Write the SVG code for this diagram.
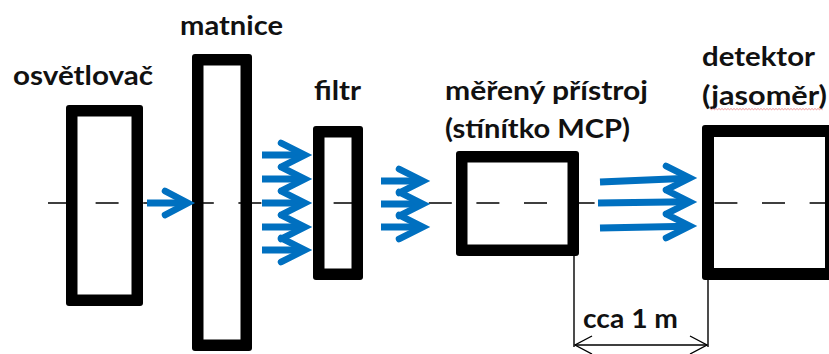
<svg xmlns="http://www.w3.org/2000/svg" width="829" height="354" viewBox="0 0 829 354">
  <style>
    .frame { fill: #000; }
    .hole { fill: #fff; }
    .label { font-family: Lato, "Open Sans", "Liberation Sans", sans-serif; font-weight: bold; font-size: 26px; fill: #111; }
    .axis { stroke: #000; stroke-width: 1.3; fill: none; stroke-dasharray: 23 24.6; }
    .ray { stroke: #0070C0; stroke-width: 7; fill: none; stroke-linecap: butt; }
    .head { stroke: #0070C0; stroke-width: 6.5; fill: none; stroke-linecap: round; stroke-linejoin: miter; }
    .dim { stroke: #000; stroke-width: 1.4; fill: none; }
  </style>

  <rect width="829" height="354" fill="#fff"/>

  <!-- light source -->
  <g id="osvetlovac">
    <rect class="frame" x="66" y="105" width="77" height="201" rx="3"/>
    <rect class="hole" x="77.5" y="116.5" width="54" height="178"/>
    <text class="label" x="13" y="85" textLength="140" lengthAdjust="spacingAndGlyphs">osvětlovač</text>
  </g>

  <!-- diffuser -->
  <g id="matnice">
    <rect class="frame" x="192" y="54" width="60" height="297" rx="3"/>
    <rect class="hole" x="203.5" y="65.5" width="37" height="274"/>
    <text class="label" x="180" y="35" textLength="103" lengthAdjust="spacingAndGlyphs">matnice</text>
  </g>

  <!-- filter -->
  <g id="filtr">
    <rect class="frame" x="313" y="126" width="50" height="154" rx="3"/>
    <rect class="hole" x="324.5" y="137.5" width="27" height="131"/>
    <text class="label" x="314" y="100" textLength="47" lengthAdjust="spacingAndGlyphs">filtr</text>
  </g>

  <!-- device under test -->
  <g id="mereny-pristroj">
    <rect class="frame" x="456" y="151" width="123" height="105" rx="3"/>
    <rect class="hole" x="467.5" y="162.5" width="100" height="82"/>
    <text class="label" x="445" y="100" textLength="203" lengthAdjust="spacingAndGlyphs">měřený přístroj</text>
    <text class="label" x="445" y="138" textLength="185" lengthAdjust="spacingAndGlyphs">(stínítko MCP)</text>
  </g>

  <!-- detector -->
  <g id="detektor">
    <rect class="frame" x="702" y="125" width="135" height="155" rx="3"/>
    <rect class="hole" x="714" y="137" width="111" height="131"/>
    <text class="label" x="702" y="66" textLength="113" lengthAdjust="spacingAndGlyphs">detektor</text>
    <text class="label" x="702" y="105" textLength="125" lengthAdjust="spacingAndGlyphs">(jasoměr)</text>
    <path d="M710 108.5 l1.5 1.2 l1.5 -1.2 l1.5 1.2 l1.5 -1.2 l1.5 1.2 l1.5 -1.2 l1.5 1.2 l1.5 -1.2 l1.5 1.2 l1.5 -1.2 l1.5 1.2 l1.5 -1.2 l1.5 1.2 l1.5 -1.2 l1.5 1.2 l1.5 -1.2 l1.5 1.2 l1.5 -1.2 l1.5 1.2 l1.5 -1.2 l1.5 1.2 l1.5 -1.2 l1.5 1.2 l1.5 -1.2 l1.5 1.2 l1.5 -1.2 l1.5 1.2 l1.5 -1.2 l1.5 1.2 l1.5 -1.2 l1.5 1.2 l1.5 -1.2 l1.5 1.2 l1.5 -1.2 l1.5 1.2 l1.5 -1.2 l1.5 1.2 l1.5 -1.2 l1.5 1.2 l1.5 -1.2 l1.5 1.2 l1.5 -1.2 l1.5 1.2 l1.5 -1.2 l1.5 1.2 l1.5 -1.2 l1.5 1.2 l1.5 -1.2 l1.5 1.2 l1.5 -1.2 l1.5 1.2 l1.5 -1.2 l1.5 1.2 l1.5 -1.2 l1.5 1.2 l1.5 -1.2 l1.5 1.2 l1.5 -1.2 l1.5 1.2 l1.5 -1.2 l1.5 1.2 l1.5 -1.2 l1.5 1.2 l1.5 -1.2 l1.5 1.2 l1.5 -1.2 l1.5 1.2 l1.5 -1.2 l1.5 1.2 l1.5 -1.2 l1.5 1.2 l1.5 -1.2 l1.5 1.2 l1.5 -1.2 l1.5 1.2" fill="none" stroke="#e87070" stroke-width="0.9" opacity="0.8"/>
  </g>

  <!-- optical axis -->
  <g id="axis">
    <line class="axis" x1="48" y1="203" x2="829" y2="203"/>
  </g>

  <!-- light rays -->
  <g id="connectors">
    <!-- source to diffuser -->
    <path class="ray" d="M147 203 H186"/>
    <path class="head" d="M165 191 L188 203 L165 215"/>

    <!-- diffuser to filter -->
    <path class="ray" d="M262 155 H303 M262 179 H303 M262 203 H303 M262 227 H303 M262 250 H303"/>
    <path class="head" d="M281 143 L305 155 L281 167 M281 167 L305 179 L281 191 M281 191 L305 203 L281 215 M281 215 L305 227 L281 239 M281 238 L305 250 L281 262"/>

    <!-- filter to device -->
    <path class="ray" d="M381 181 H421 M381 204 H421 M381 227 H421"/>
    <path class="head" d="M399 169 L423 181 L399 193 M399 192 L423 204 L399 216 M399 215 L423 227 L399 239"/>

    <!-- device to detector -->
    <path class="ray" d="M600 182 L688 178.3 M598 203 L688 201.8 M600 228 L688 226.3"/>
    <path class="head" d="M666 166 L690 178 L666 190 M666 190 L690 202 L666 214 M666 214 L690 226 L666 238"/>
  </g>

  <!-- distance dimension -->
  <g id="dimension">
    <path class="dim" d="M574 256 V347 M708 280 V347 M575 345 H707"/>
    <path class="dim" d="M592 336 L575 345 L592 354 M690 336 L707 345 L690 354"/>
    <text class="label" x="583" y="328" textLength="95" lengthAdjust="spacingAndGlyphs">cca 1 m</text>
  </g>
</svg>
